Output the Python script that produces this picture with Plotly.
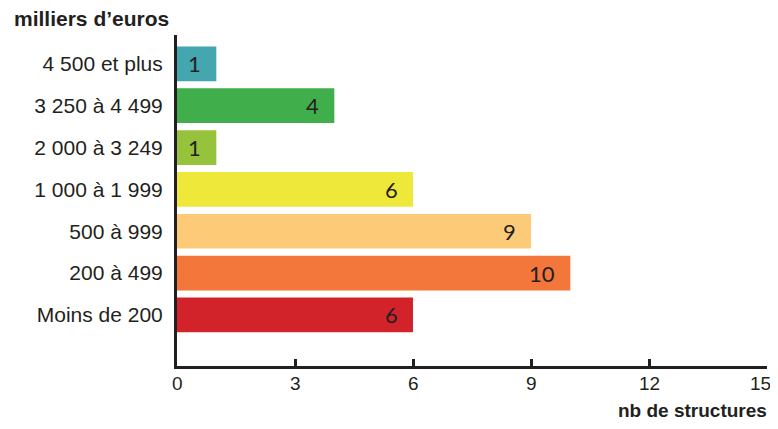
import plotly.graph_objects as go

categories = ["Moins de 200", "200 à 499", "500 à 999", "1 000 à 1 999",
              "2 000 à 3 249", "3 250 à 4 499", "4 500 et plus"]
values = [6, 10, 9, 6, 1, 4, 1]
colors = ["#D2232A", "#F3763A", "#FDCB78", "#EDE83A", "#97C33C", "#40AE4A", "#44A6AE"]
x_ticks = [0, 3, 6, 9, 12, 15]

# page has 8px body margin on every side; compensate
OFF = 8
W, H = 778 - 2 * OFF, 429 - 2 * OFF
L, T = 177 - OFF, 35 - OFF
R = W - (767 - OFF)
B = H - (366 - OFF)
pw, ph = W - L - R, H - T - B
INK = "#231F20"

fig = go.Figure()
fig.add_trace(go.Bar(
    x=values, y=categories, orientation="h",
    marker=dict(color=colors, line=dict(width=0)),
    hoverinfo="skip",
))

for v, c in zip(values, categories):
    fig.add_annotation(x=v, y=c, xref="x", yref="y", text=str(v),
                       showarrow=False, xanchor="right", xshift=-13,
                       font=dict(family="Lato", size=22, color=INK))

# x tick labels (kept inside the page edge)
for t in x_ticks:
    shift = -7 if t == x_ticks[-1] else 0
    fig.add_annotation(x=t, y=0, xref="x", yref="paper", text=str(t),
                       showarrow=False, xanchor="center", yanchor="middle",
                       xshift=shift, yshift=-17,
                       font=dict(family="Liberation Sans", size=19, color=INK))

fig.add_annotation(xref="paper", yref="paper", x=(12 - 177) / pw, y=1 + (35 - 18) / ph,
                   xanchor="left", yanchor="middle", showarrow=False,
                   text="<b>milliers d’euros</b>",
                   font=dict(family="Liberation Sans", size=21, color=INK))
fig.add_annotation(xref="paper", yref="paper", x=(769 - 177) / pw, y=-(410 - 366) / ph,
                   xanchor="right", yanchor="middle", showarrow=False,
                   text="<b>nb de structures</b>",
                   font=dict(family="Liberation Sans", size=19, color=INK))

fig.update_layout(
    width=W, height=H,
    margin=dict(l=L, r=R, t=T, b=B),
    paper_bgcolor="white", plot_bgcolor="white",
    showlegend=False, bargap=0.17,
    font=dict(family="Liberation Sans", color=INK),
    xaxis=dict(range=[0, 15], tickvals=x_ticks, ticks="inside", ticklen=7, tickwidth=3,
               tickcolor=INK, showline=True, linecolor=INK, linewidth=3,
               showgrid=False, zeroline=False, showticklabels=False, fixedrange=True),
    yaxis=dict(categoryorder="array", categoryarray=categories,
               range=[-1.22, 6.69], showline=True, linecolor=INK, linewidth=3,
               showgrid=False, zeroline=False, ticks="", ticklabelstandoff=7,
               tickfont=dict(size=21, color=INK), fixedrange=True),
)

fig.write_html("out.html", config={"displayModeBar": False})
